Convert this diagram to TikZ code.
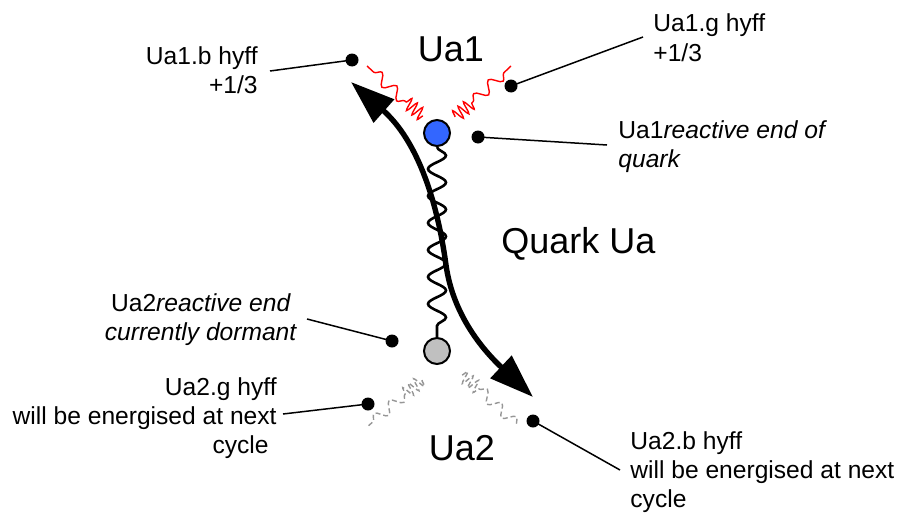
\documentclass[tikz,border=0pt]{standalone}
\usepackage{fontspec}
\setmainfont{Liberation Sans}
\usetikzlibrary{arrows.meta,decorations.pathmorphing}
\definecolor{ballblue}{RGB}{51,102,255}
\definecolor{ballgray}{RGB}{192,192,192}
\definecolor{wiggray}{RGB}{150,150,150}
\tikzset{
  dotnode/.style={circle, fill=black, inner sep=0pt, minimum size=6.5pt},
  lead/.style={line width=0.75pt},
  lbl/.style={inner sep=0pt, font=\fontsize{12.3}{14.5}\selectfont},
  biglbl/.style={inner sep=0pt, font=\fontsize{18}{21}\selectfont},
  endball/.style={circle, draw=black, line width=1pt, inner sep=0pt, minimum size=13pt},
  springline/.style={line width=1.3pt, decorate, decoration={snake, segment length=13.5pt, amplitude=4.5pt}},
  hyfftight/.style={decorate, decoration={snake, segment length=3.5pt, amplitude=3.2pt}},
  hyffloose/.style={decorate, decoration={snake, segment length=10pt, amplitude=2.8pt}},
  hot/.style={red, line width=0.7pt},
  cold/.style={wiggray, line width=0.7pt, dash pattern=on 2.5pt off 1.5pt},
  bigarrow/.style={line width=2.7pt, {Triangle[length=22pt,width=15pt]}-{Triangle[length=22pt,width=15pt]}}
}
\begin{document}
\begin{tikzpicture}[x=0.5pt, y=-0.5pt]
\useasboundingbox (0,0) rectangle (904,514);

% balls
\node[endball, fill=ballblue] (ball1) at (437,133) {};
\node[endball, fill=ballgray] (ball2) at (437,351) {};

% spring between the two reactive ends
\draw[springline] (ball1.south) -- (ball2.north);

% curved double arrow
\coordinate (atop) at (351,82);
\coordinate (abot) at (533,397);
\draw[bigarrow] (atop) .. controls (411,135) and (435,185) .. (446,265)
                       .. controls (453,315) and (483,350) .. (abot);

% hyff wiggles (red, active)
\coordinate (rl1) at (423,116); \coordinate (rl2) at (405,101); \coordinate (rl3) at (367,66);
\coordinate (rr1) at (455,117); \coordinate (rr2) at (473,102); \coordinate (rr3) at (511,66);
\draw[hot, hyfftight] (rl1) -- (rl2);
\draw[hot, hyffloose] (rl2) -- (rl3);
\draw[hot, hyfftight] (rr1) -- (rr2);
\draw[hot, hyffloose] (rr2) -- (rr3);

% hyff wiggles (grey, dormant)
\coordinate (gl1) at (422,380); \coordinate (gl2) at (405,394); \coordinate (gl3) at (367,427);
\coordinate (gr1) at (462,375); \coordinate (gr2) at (479,389); \coordinate (gr3) at (518,426);
\draw[cold, hyfftight] (gl1) -- (gl2);
\draw[cold, hyffloose] (gl2) -- (gl3);
\draw[cold, hyfftight] (gr1) -- (gr2);
\draw[cold, hyffloose] (gr2) -- (gr3);

% big labels
\node[biglbl, anchor=base] (tUa1) at (451,61) {Ua1};
\node[biglbl, anchor=base] (tUa2) at (462,460) {Ua2};
\node[biglbl, anchor=base west] (tQuark) at (501,253) {Quark Ua};

% small labels (anchor = baseline of the last line)
\node[lbl, align=right, anchor=base east] (t1) at (258,93) {Ua1.b hyff\\+1/3};
\node[lbl, align=left, anchor=base west] (t2) at (653,61) {Ua1.g hyff\\+1/3};
\node[lbl, align=left, anchor=base west] (t3) at (618,167) {Ua1\textit{reactive end of}\\\textit{quark}};
\node[lbl, align=center, anchor=base] (t4) at (201,340) {Ua2\textit{reactive end}\\\textit{currently dormant}};
\node[lbl, align=right, anchor=base east] (t5) at (277,453) {Ua2.g hyff\\will be energised at next\\cycle\hspace*{4pt}};
\node[lbl, align=left, anchor=base west] (t6) at (630,507) {Ua2.b hyff\\will be energised at next\\cycle};

% leader dots
\node[dotnode] (d1) at (352,60) {};
\node[dotnode] (d2) at (511,86) {};
\node[dotnode] (d3) at (478,137) {};
\node[dotnode] (d4) at (392,341) {};
\node[dotnode] (d5) at (368,404) {};
\node[dotnode] (d6) at (533,421) {};

% leader line ends
\coordinate (e1) at (270,71);
\coordinate (e2) at (643,37);
\coordinate (e3) at (607,145);
\coordinate (e4) at (307,319);
\coordinate (e5) at (283,414);
\coordinate (e6) at (620,470);

\draw[lead] (e1) -- (d1.center);
\draw[lead] (d2.center) -- (e2);
\draw[lead] (d3.center) -- (e3);
\draw[lead] (e4) -- (d4.center);
\draw[lead] (e5) -- (d5.center);
\draw[lead] (d6.center) -- (e6);
\end{tikzpicture}
\end{document}
